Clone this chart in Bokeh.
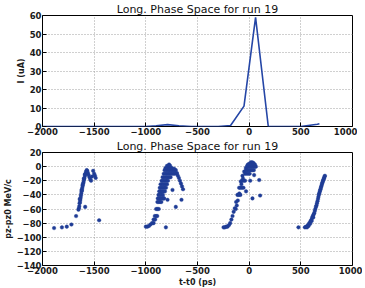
from bokeh.plotting import figure
from bokeh.layouts import column
from bokeh.models import Range1d, FixedTicker
from bokeh.embed import file_html
from bokeh.resources import INLINE

# ---- data: current profile (top) ----
cur_t = [-2000, -1000, -900, -790, -680, -560, -300, -180, -50, 62, 185, 300, 500, 660, 680]
cur_i = [0, 0, 0.4, 1.0, 0.4, 0, 0, 0.5, 11, 59, 0, 0, 0, 1.2, 1.5]

# ---- data: longitudinal phase space (bottom), four bunches ----
b1_t = [-1888, -1812, -1765, -1720, -1675, -1652, -1648, -1644, -1641, -1637, -1634, -1631,
        -1628, -1625, -1621, -1618, -1615, -1611, -1607, -1603, -1598, -1594, -1589, -1584,
        -1578, -1572, -1567, -1560, -1553, -1546, -1538, -1530, -1520, -1510, -1500, -1492,
        -1485, -1587, -1452, -1640, -1622, -1612, -1600, -1590, -1575]
b1_p = [-87, -86, -85, -82, -70, -61, -59, -56, -52, -50, -47, -44,
        -41, -38, -35, -33, -30, -27, -24, -22, -19, -16, -13, -10,
        -7, -5, -6, -9, -12, -15, -18, -20, -14, -6, -10, -13,
        -16, -57, -76, -46, -33, -26, -17, -11, -8]

b2_t = [-1000, -985, -970, -955, -940, -925, -925, -910, -913, -900, -890, -900, -888, -875,
        -888, -875, -862, -850, -884, -870, -855, -840, -829, -877, -865, -850, -835,
        -870, -858, -845, -830, -815, -865, -850, -835, -820, -805,
        -857, -843, -828, -812, -795, -847, -832, -815, -800, -785,
        -838, -822, -805, -790, -775, -760,
        -827, -810, -795, -780, -765, -750, -735, -720, -700,
        -818, -800, -785, -770, -755, -740, -725, -710,
        -810, -793, -778, -762, -748, -795, -780, -765, -775,
        -726, -700, -690, -680, -670, -660, -650, -640,
        -823, -790, -742, -710, -655, -806]
b2_p = [-85, -85, -84, -82, -80, -80, -75, -75, -70, -70, -70, -60, -60, -60,
        -50, -50, -50, -50, -45, -45, -45, -45, -45, -40, -40, -40, -40,
        -35, -35, -35, -35, -35, -30, -30, -30, -30, -30,
        -25, -25, -25, -25, -25, -20, -20, -20, -20, -20,
        -15, -15, -15, -15, -15, -15,
        -10, -10, -10, -10, -10, -10, -10, -10, -10,
        -5, -5, -5, -5, -5, -5, -5, -5,
        -2, -2, -2, -2, -2, 1, 1, 1, 3,
        -3, -9, -13, -16, -20, -24, -28, -32,
        -45, -47, -33, -57, -47, -86]

b3_t = [-248, -235, -222, -210, -197, -184, -172, -161, -150, -139, -126, -113, -97, -81,
        -65, -48, -32, -16, 0, 16, 30, 42, 55, 65,
        -100, -85, -85, -70, -55, -70, -55, -40, -40, -25, -10, 5,
        -30, -15, 0, 15, 30, 45, -20, -5, 10, 25, 40, 55, -10, 5, 20, 35, 50,
        -130, -120, -110, -95, -75, -60,
        48, 97, 32, 106, -30, 10]
b3_p = [-86, -86, -85, -85, -83, -80, -75, -70, -64, -59, -50, -40, -30, -21,
        -13, -7, -2, 2, 4, 6, 6, 5, 3, 0,
        -40, -40, -30, -30, -30, -20, -20, -20, -10, -10, -10, -10,
        -5, -5, -5, -5, -5, -5, 0, 0, 0, 0, 0, 0, 3, 3, 3, 3, 3,
        -60, -55, -48, -38, -25, -17,
        -12, -19, -45, -41, -35, -20]

b4_t = [477, 539, 548, 555, 563, 571, 579, 587, 595, 603, 610, 616, 623, 629, 635, 640, 646,
        651, 656, 661, 666, 670, 674, 678, 682, 686, 690, 694, 698, 702, 706, 710, 714,
        718, 722, 726, 730, 733, 560, 575, 590, 605, 620]
b4_p = [-86, -86, -85.5, -85, -84, -83, -81, -79, -77, -75, -72, -70, -68, -66, -63, -60, -57,
        -55, -52, -49, -46, -43, -40, -38, -36, -34, -32, -30, -28, -26, -24, -22, -20,
        -19, -17, -16, -14, -13, -86, -84, -81, -77, -72]

x_ticks = [-2000, -1500, -1000, -500, 0, 500, 1000]
top_y_ticks = [0, 10, 20, 30, 40, 50, 60]
bot_y_ticks = [20, 0, -20, -40, -60, -80, -100, -120, -140]
title_text = "Long. Phase Space for run 19"

LINE_C = "#2546a6"
DOT_C = "#1f3c96"
FONT = "DejaVu Sans"


def style(p, xt, yt):
    p.outline_line_color = "black"
    p.outline_line_width = 1
    p.title.text_font = FONT
    p.title.text_font_size = "11px"
    p.title.text_font_style = "normal"
    p.title.align = "center"
    p.title.standoff = 0
    p.title.offset = 0
    p.title.text_color = "#111111"
    p.background_fill_color = "white"
    p.border_fill_color = "white"
    for ax in (p.xaxis[0], p.yaxis[0]):
        ax.axis_line_color = None
        ax.major_tick_in = 4
        ax.major_tick_out = 0
        ax.minor_tick_line_color = None
        ax.major_tick_line_color = "black"
        ax.major_label_text_font = FONT
        ax.major_label_text_font_size = "8.5px"
        ax.major_label_text_font_style = "bold"
        ax.major_label_text_color = "#1a1a1a"
        ax.major_label_standoff = 1
        ax.axis_label_text_font = FONT
        ax.axis_label_text_font_size = "8px"
        ax.axis_label_text_font_style = "bold"
        ax.axis_label_text_color = "#1a1a1a"
        ax.axis_label_standoff = 1
    p.xaxis[0].ticker = FixedTicker(ticks=xt)
    p.yaxis[0].ticker = FixedTicker(ticks=yt)
    for g in (p.xgrid[0], p.ygrid[0]):
        g.grid_line_color = "#a0a0a0"
        g.grid_line_dash = "1 2"
        g.grid_line_width = 1


top = figure(frame_width=310, frame_height=111, output_backend="svg", toolbar_location=None,
             x_range=Range1d(-2000, 1000), y_range=Range1d(0, 60),
             title=title_text, min_border_left=37, min_border_right=10,
             min_border_top=13, min_border_bottom=0)
top.line(cur_t, cur_i, line_color=LINE_C, line_width=1.6)
top.yaxis.axis_label = "I (uA)"
style(top, x_ticks, top_y_ticks)

bot = figure(frame_width=310, frame_height=113, output_backend="svg", toolbar_location=None,
             x_range=Range1d(-2000, 1000), y_range=Range1d(-140, 20),
             title=title_text, min_border_left=37, min_border_right=10,
             min_border_top=0, min_border_bottom=0)
for bt, bp in ((b1_t, b1_p), (b2_t, b2_p), (b3_t, b3_p), (b4_t, b4_p)):
    bot.scatter(bt, bp, size=3.6, fill_color=DOT_C, line_color=DOT_C, line_width=0.4)
bot.yaxis.axis_label = "pz-pz0 MeV/c"
bot.xaxis.axis_label = "t-t0 (ps)"
style(bot, x_ticks, bot_y_ticks)

layout = column(top, bot, spacing=0)
open("out.html", "w").write(file_html(layout, INLINE))
